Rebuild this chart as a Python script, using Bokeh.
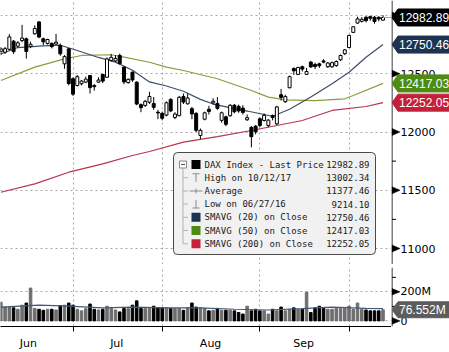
from bokeh.plotting import figure
from bokeh.models import Range1d, FixedTicker, Label, BoxAnnotation, ColumnDataSource
from bokeh.core.properties import value
from bokeh.layouts import column, row
from bokeh.embed import file_html
from bokeh.resources import INLINE

# ---------------- data ----------------
dates = ["06/07", "06/08", "06/09", "06/12", "06/13", "06/14", "06/15", "06/16", "06/19", "06/20",
         "06/21", "06/22", "06/23", "06/26", "06/27", "06/28", "06/29", "06/30",
         "07/03", "07/04", "07/05", "07/06", "07/07", "07/10", "07/11", "07/12", "07/13", "07/14",
         "07/17", "07/18", "07/19", "07/20", "07/21", "07/24", "07/25", "07/26", "07/27", "07/28", "07/31",
         "08/01", "08/02", "08/03", "08/04", "08/07", "08/08", "08/09", "08/10", "08/11", "08/14",
         "08/15", "08/16", "08/17", "08/18", "08/21", "08/22", "08/23", "08/24", "08/25", "08/28",
         "08/29", "08/30", "08/31",
         "09/01", "09/04", "09/05", "09/06", "09/07", "09/08", "09/11", "09/12", "09/13", "09/14",
         "09/15", "09/18", "09/19", "09/20", "09/21", "09/22", "09/25", "09/26", "09/27", "09/28", "09/29",
         "10/02", "10/04", "10/05", "10/06", "10/09", "10/10", "10/11", "10/12"]

opens = [12690, 12685, 12710, 12780, 12737, 12785, 12800, 12735, 12843, 12945,
         12800, 12760, 12760, 12755, 12743, 12585, 12714, 12457,
         12399, 12414, 12428, 12485, 12400, 12428, 12494, 12470, 12614, 12610,
         12657, 12557, 12424, 12513, 12428, 12235, 12228, 12256, 12245, 12170, 12160,
         12145, 12280, 12125, 12140, 12305, 12242, 12200, 12160, 11970, 12110,
         12195, 12250, 12245, 12100, 12130, 12140, 12230, 12220, 12205, 12105,
         12040, 12050, 12113,
         12099, 12056, 12140, 12070, 12320, 12260, 12380, 12545, 12494, 12560,
         12495, 12600, 12580, 12585, 12610, 12560, 12560, 12570, 12620, 12672, 12725,
         12855, 12935, 12950, 12985, 12990, 12985, 12985, 12960]
highs = [12730, 12730, 12840, 12790, 12780, 12920, 12810, 12775, 12915, 12952,
         12810, 12800, 12770, 12842, 12760, 12660, 12720, 12470,
         12490, 12445, 12475, 12490, 12410, 12470, 12500, 12640, 12670, 12660,
         12672, 12560, 12460, 12520, 12435, 12245, 12275, 12345, 12300, 12190, 12175,
         12262, 12290, 12170, 12310, 12330, 12330, 12215, 12170, 12030, 12175,
         12225, 12290, 12300, 12175, 12140, 12240, 12240, 12235, 12230, 12150,
         12050, 12060, 12125,
         12160, 12110, 12150, 12225, 12370, 12320, 12485, 12555, 12560, 12570,
         12550, 12610, 12595, 12595, 12625, 12600, 12605, 12615, 12665, 12712, 12835,
         12910, 12990, 12985, 12995, 12998, 12995, 12992, 13002.34]
lows = [12660, 12670, 12700, 12670, 12725, 12770, 12630, 12720, 12835, 12805,
        12745, 12750, 12718, 12750, 12655, 12543, 12400, 12310,
        12390, 12400, 12420, 12330, 12355, 12420, 12420, 12465, 12605, 12600,
        12580, 12410, 12415, 12430, 12230, 12170, 12215, 12240, 12190, 12110, 12100,
        12135, 12170, 12110, 12135, 12240, 12235, 12110, 12000, 11940, 12100,
        12150, 12235, 12190, 12080, 12050, 12130, 12160, 12165, 12150, 12095,
        11868, 11980, 12040,
        12090, 12040, 12100, 12060, 12270, 12250, 12375, 12490, 12490, 12520,
        12490, 12550, 12540, 12550, 12590, 12550, 12550, 12560, 12610, 12660, 12720,
        12850, 12930, 12940, 12940, 12955, 12930, 12950, 12955]
closes = [12714, 12715, 12816, 12690, 12765, 12806, 12692, 12753, 12889, 12815,
          12774, 12794, 12733, 12771, 12671, 12647, 12416, 12325,
          12475, 12437, 12454, 12381, 12389, 12446, 12437, 12627, 12641, 12632,
          12587, 12430, 12452, 12447, 12240, 12209, 12263, 12305, 12212, 12163, 12118,
          12251, 12181, 12154, 12298, 12257, 12292, 12155, 12014, 12014, 12165,
          12177, 12264, 12203, 12165, 12066, 12229, 12174, 12181, 12168, 12123,
          11960, 12002, 12056,
          12143, 12102, 12124, 12215, 12297, 12304, 12475, 12525, 12554, 12540,
          12519, 12559, 12562, 12569, 12600, 12592, 12595, 12605, 12657, 12705, 12829,
          12903, 12971, 12968, 12956, 12976, 12949, 12971, 12982.89]
volumes_m = [129, 95, 95, 90, 80, 108, 123, 226, 86, 80,
             73, 80, 80, 75, 105, 108, 123, 108,
             80, 69, 84, 116, 80, 75, 80, 101, 86, 75,
             62, 86, 84, 108, 138, 86, 86, 86, 101, 90, 90,
             90, 86, 86, 86, 73, 90, 123, 95, 90, 86,
             69, 73, 86, 73, 73, 73, 69, 58, 47, 101,
             69, 80, 69,
             69, 47, 80, 69, 95, 69, 80, 90, 80, 80,
             198, 58, 90, 101, 86, 80, 80, 86, 86, 86, 101,
             80, 123, 80, 75, 69, 69, 69, 76.552]

# moving averages (day index, value)
sma20_i = [0, 4, 10, 14, 18, 23, 27, 31, 35, 39, 43, 47, 50, 55, 58, 62, 64, 68, 73, 78, 82, 86, 90]
sma20_v = [12670, 12725, 12740, 12745, 12700, 12640, 12600, 12530, 12430, 12395, 12350, 12280,
           12240, 12200, 12180, 12150, 12135, 12195, 12300, 12415, 12513, 12642, 12750.46]
sma50_i = [0, 8, 15, 19, 26, 29, 35, 39, 43, 51, 59, 63, 67, 74, 81, 83, 90]
sma50_v = [12442, 12557, 12628, 12657, 12663, 12642, 12599, 12557, 12528, 12457, 12356, 12299,
           12276, 12270, 12285, 12313, 12417.03]
sma200_i = [0, 8, 16, 24, 31, 35, 43, 51, 59, 65, 71, 78, 86, 90]
sma200_v = [11483, 11555, 11655, 11727, 11798, 11833, 11913, 11961, 12013, 12056, 12099, 12185,
            12219, 12252.05]
vol_ma_i = [0, 9, 16, 24, 31, 39, 47, 55, 63, 71, 78, 86, 90]
vol_ma_v = [95, 108, 101, 90, 95, 90, 90, 80, 75, 84, 95, 86, 84]

price_ticks = [11000, 11500, 12000, 12500, 13000]
price_tick_labels = ["11000", "11500", "12000", "12500", "13000"]
price_minor = [11250, 11750, 12250, 12750]
vol_ticks = [0, 200]
vol_tick_labels = ["0", "200M"]
vol_minor = [100, 300]
month_names = ["Jun", "Jul", "Aug", "Sep"]
month_label_pos = [6.5, 27.3, 49.4, 71.3]

legend_labels = ["DAX Index - Last Price", "High on 10/12/17", "Average", "Low on 06/27/16",
                 "SMAVG (20) on Close", "SMAVG (50) on Close", "SMAVG (200) on Close"]
legend_values = ["12982.89", "13002.34", "11377.46", "9214.10", "12750.46", "12417.03", "12252.05"]

# ---------------- layout constants ----------------
W = 449
PH = 264
VH = 85
VB = 22            # bottom border of volume panel (month labels)
FW = 391           # plot frame width
SW = W - FW        # right scale strip width
X0, X1 = -0.08, 92.0
PY0, PY1 = 10862.7, 13128.8
VY0, VY1 = -38.7, 367.7
FONT = "DejaVu Sans"
TAGFONT = "Liberation Sans"
GRID = "#a8a8a8"

C20, C50, C200 = "#3b4e6c", "#8b9c3c", "#b8344c"
T20, T50, T200 = "#1c3452", "#4f8a12", "#c4203c"

n = len(closes)
idx = list(range(n))
month_end = [i for i in range(n - 1) if dates[i][:2] != dates[i + 1][:2]]
up = [c >= o for o, c in zip(opens, closes)]
src = ColumnDataSource(dict(
    x=idx, o=opens, h=highs, l=lows, c=closes,
    top=[max(o, c) for o, c in zip(opens, closes)],
    bot=[min(o, c) for o, c in zip(opens, closes)],
    fill=["white" if u else "black" for u in up],
    vol=volumes_m,
    vcol=["#6e6e6e" if u else "black" for u in up],
))

x_rng = Range1d(X0, X1)
py_rng = Range1d(PY0, PY1)
vy_rng = Range1d(VY0, VY1)

common = dict(output_backend="svg", toolbar_location=None, outline_line_color=None,
              background_fill_color="white", border_fill_color="white")

# ---------------- price panel ----------------
p = figure(width=FW, height=PH, x_range=x_rng, y_range=py_rng,
           x_axis_location=None, y_axis_location=None, min_border=0, **common)
p.xgrid.ticker = FixedTicker(ticks=month_end)
p.ygrid.ticker = FixedTicker(ticks=price_ticks)
for g in (p.xgrid, p.ygrid):
    g.grid_line_color = GRID
    g.grid_line_dash = "2 3"
    g.grid_line_width = 1

p.line(sma200_i, sma200_v, line_color=C200, line_width=1.2)
p.line(sma50_i, sma50_v, line_color=C50, line_width=1.2)
p.line(sma20_i, sma20_v, line_color=C20, line_width=1.2)
p.segment(x0="x", y0="h", x1="x", y1="l", line_color="black", line_width=1, source=src)
p.vbar(x="x", width=0.7, top="top", bottom="bot", fill_color="fill", line_color="black",
       line_width=1, source=src)
p.segment(x0=[n - 1], y0=[closes[-1]], x1=[X1], y1=[closes[-1]], line_color="#e0a030", line_width=1)


# ---------------- legend box (canvas px) ----------------
def cbox(l, r, t, b, fill, line=None, **kw):
    p.add_layout(BoxAnnotation(left=l, right=r, top=t, bottom=b,
                               left_units="canvas", right_units="canvas",
                               top_units="canvas", bottom_units="canvas",
                               fill_color=fill, fill_alpha=1,
                               line_color=line, line_alpha=1 if line else 0, level="overlay", **kw))


def hline(x0, x1, y, color="#8a8a8a"):
    cbox(x0, x1, y - 0.5, y + 0.5, color)


def vline(x, y0, y1, color="#8a8a8a"):
    cbox(x - 0.5, x + 0.5, y0, y1, color)


cbox(173, 375, 152, 254, "#f1f1f1", "#4a4a4a", border_radius=4)
row_y = [164 + 13.2 * k for k in range(len(legend_labels))]
for k, (lab, val) in enumerate(zip(legend_labels, legend_values)):
    p.add_layout(Label(x=204, y=row_y[k], x_units="canvas", y_units="canvas", text=lab,
                       text_font="DejaVu Sans Mono", text_font_size="9px", text_color="#1a1a1a",
                       text_baseline="middle", level="overlay"))
    p.add_layout(Label(x=369, y=row_y[k], x_units="canvas", y_units="canvas", text=val,
                       text_font="DejaVu Sans Mono", text_font_size="9px", text_color="#1a1a1a",
                       text_baseline="middle", text_align="right", level="overlay"))
vline(182.5, 168, row_y[-1], "#b4b4b4")
for k in range(1, len(row_y)):
    hline(182.5, 187.5, row_y[k], "#b4b4b4")
cbox(179, 186, row_y[0] - 3.5, row_y[0] + 3.5, "white", "#8a8a8a")
hline(180.5, 184.5, row_y[0], "#555555")
cbox(191, 200, row_y[0] - 4.5, row_y[0] + 4.5, "black")
hline(192, 199, row_y[1] - 4)
vline(195.5, row_y[1] - 4, row_y[1] + 4)
hline(189, 202, row_y[2])
vline(195.5, row_y[2] - 2.5, row_y[2] + 2.5)
vline(195.5, row_y[3] - 4, row_y[3] + 4)
hline(192, 199, row_y[3] + 4)
for k, col in zip((4, 5, 6), (T20, T50, T200)):
    cbox(191, 200, row_y[k] - 4.5, row_y[k] + 4.5, col)


# ---------------- right-hand scale strips ----------------
def scale_strip(height, y_rng, frame_h, ticks, labels, minor, tags, bottom=0):
    s = figure(width=SW, height=height, x_range=Range1d(0, SW), y_range=y_rng,
               x_axis_location=None, y_axis_location=None, min_border=0,
               min_border_bottom=bottom, **common)
    s.grid.visible = False
    u = (y_rng.end - y_rng.start) / frame_h      # data units per pixel
    s.segment(x0=[0.5], y0=[y_rng.start], x1=[0.5], y1=[y_rng.end], line_color="black", line_width=1)
    s.segment(x0=[0.5] * len(minor), y0=minor, x1=[4.5] * len(minor), y1=minor,
              line_color="black", line_width=1)
    s.patches(xs=[[0.5, 8.5, 0.5] for _ in ticks],
              ys=[[t + 3.5 * u, t, t - 3.5 * u] for t in ticks],
              fill_color="black", line_color="black", line_width=0.5)
    s.text(x=[9] * len(ticks), y=ticks, text=labels, text_font=value(FONT),
           text_font_size="11px", text_baseline="middle", text_color="black")
    hh = 8.5 * u
    tsrc = ColumnDataSource(dict(
        xs=[[0.5, 6.5, SW + 2, SW + 2, 6.5] for _ in tags],
        ys=[[v, v + hh, v + hh, v - hh, v - hh] for v, _, _ in tags],
        col=[c for _, c, _ in tags],
        y=[v for v, _, _ in tags],
        t=[t for _, _, t in tags],
    ))
    s.patches(xs="xs", ys="ys", fill_color="col", line_color="col", source=tsrc)
    s.text(x=7.5, y="y", text="t", text_color="white", text_font=value(TAGFONT),
           text_font_size="12px", text_baseline="middle", source=tsrc)
    return s


ps = scale_strip(PH, py_rng, PH, price_ticks, price_tick_labels, price_minor, [
    (sma200_v[-1], T200, f"{sma200_v[-1]:.2f}"),
    (sma50_v[-1], T50, f"{sma50_v[-1]:.2f}"),
    (sma20_v[-1], T20, f"{sma20_v[-1]:.2f}"),
    (closes[-1], "black", f"{closes[-1]:.2f}"),
])

# ---------------- separator ----------------
sep = figure(width=W, height=3, output_backend="svg", toolbar_location=None,
             x_axis_location=None, y_axis_location=None, min_border=0,
             background_fill_color="#999999", border_fill_color="#999999", outline_line_color=None)
sep.grid.visible = False

# ---------------- volume panel ----------------
pv = figure(width=FW, height=VH, x_range=x_rng, y_range=vy_rng,
            x_axis_location="below", y_axis_location=None,
            min_border_left=0, min_border_top=0, min_border_right=0, min_border_bottom=VB, **common)
pv.xgrid.ticker = FixedTicker(ticks=month_end)
pv.ygrid.ticker = FixedTicker(ticks=vol_ticks)
for g in (pv.xgrid, pv.ygrid):
    g.grid_line_color = GRID
    g.grid_line_dash = "2 3"
xa = pv.xaxis[0]
xa.ticker = FixedTicker(ticks=month_label_pos, minor_ticks=month_end)
xa.major_label_overrides = {pos: name for pos, name in zip(month_label_pos, month_names)}
xa.major_tick_out = 0
xa.major_tick_in = 0
xa.minor_tick_out = 5
xa.minor_tick_in = 0
xa.minor_tick_line_color = "black"
xa.axis_line_color = "black"
xa.major_label_standoff = 5
xa.major_label_text_font = FONT
xa.major_label_text_font_size = "11px"
xa.major_label_text_color = "black"

pv.vbar(x="x", width=0.6, top="vol", bottom=0, fill_color="vcol", line_color="vcol", source=src)
pv.line(vol_ma_i, vol_ma_v, line_color="#3f5a78", line_width=1.2)

vs = scale_strip(VH, vy_rng, VH - VB, vol_ticks, vol_tick_labels, vol_minor,
                 [(volumes_m[-1], "#5c5c5c", f"{volumes_m[-1]:.3f}M")], bottom=VB)

layout = column(row(p, ps, spacing=0), sep, row(pv, vs, spacing=0), spacing=0)
open("out.html", "w").write(file_html(layout, INLINE))
